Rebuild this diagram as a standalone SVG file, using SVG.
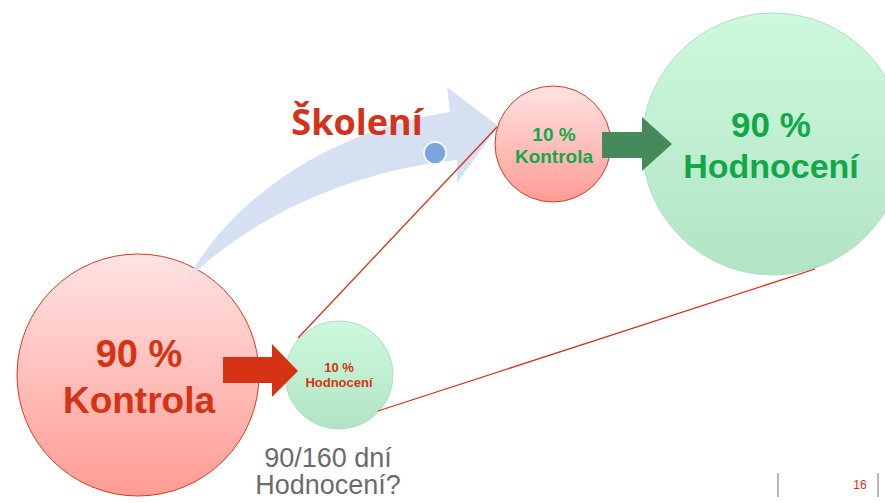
<svg xmlns="http://www.w3.org/2000/svg" width="885" height="503" viewBox="0 0 885 503">
<defs>
<linearGradient id="gRed" x1="0" y1="0" x2="0" y2="1">
<stop offset="0" stop-color="#ffe3e3"/>
<stop offset="1" stop-color="#ff9c94"/>
</linearGradient>
<linearGradient id="gGreen" x1="0" y1="0" x2="0" y2="1">
<stop offset="0" stop-color="#cdf9dc"/>
<stop offset="1" stop-color="#b1e4c4"/>
</linearGradient>
<style>
.rc{fill:url(#gRed);stroke:#d63a1e;stroke-width:1}
.gc{fill:url(#gGreen);stroke:#b3dcc3;stroke-width:1}
.t{font-family:"Liberation Sans",Arial,sans-serif;font-weight:bold;text-anchor:middle}
.red{fill:#d63214}
.grn{fill:#12a84a}
.conn{stroke:#d63214;stroke-width:1.3;fill:none}
.gray{font-family:"Liberation Sans",Arial,sans-serif;fill:#6b6b6b;text-anchor:middle;font-size:27px}
</style>
</defs>
<rect width="885" height="503" fill="#ffffff"/>

<g id="node-90-kontrola">
<circle cx="138" cy="375" r="121" class="rc"/>
<text x="139" y="367" class="t red" font-size="38">90 %</text>
<text x="139" y="413" class="t red" font-size="37">Kontrola</text>
</g>

<g id="skoleni-arrow">
<path d="M188 279 C230 200 330 130 450 112 L447 87 L498 126 L457 183 L457 160 C360 170 260 210 188 279 Z" fill="#d6e0f3"/>
<circle cx="435" cy="153" r="11" fill="#7aa6dd" stroke="#ffffff" stroke-width="1.5"/>
<text x="357" y="135" class="t" font-size="36" fill="#d4321a" style="font-family:'Open Sans','Liberation Sans',sans-serif">Školení</text>
</g>

<g id="node-10-hodnoceni">
<circle cx="339" cy="375" r="54" class="gc"/>
<text x="339" y="372" class="t red" font-size="13">10 %</text>
<text x="339" y="387" class="t red" font-size="13">Hodnocení</text>
</g>

<g id="node-10-kontrola">
<circle cx="553" cy="144" r="58" class="rc"/>
<text x="554" y="141" class="t grn" font-size="19">10 %</text>
<text x="554" y="163" class="t grn" font-size="19">Kontrola</text>
</g>

<g id="node-90-hodnoceni">
<circle cx="773" cy="144" r="131" class="gc"/>
<text x="771" y="137" class="t grn" font-size="35">90 %</text>
<text x="771" y="178" class="t grn" font-size="34">Hodnocení</text>
</g>

<g id="connectors">
<line x1="298" y1="338" x2="497" y2="127" class="conn"/>
<line x1="378" y1="411" x2="815" y2="269" class="conn"/>
<path d="M223 357 L272 357 L272 344 L298 371 L272 397 L272 383 L223 383 Z" fill="#d63214"/>
<path d="M602 132 L642 132 L642 117 L672 144 L642 171 L642 158 L602 158 Z" fill="#468a5b"/>
</g>

<g id="note">
<text x="328" y="467" class="gray">90/160 dní</text>
<text x="328" y="494" class="gray">Hodnocení?</text>
</g>

<g id="footer">
<line x1="778" y1="473" x2="778" y2="497" stroke="#8a8a8a" stroke-width="1.2"/>
<line x1="878" y1="473" x2="878" y2="497" stroke="#8a8a8a" stroke-width="1.2"/>
<text x="860" y="489" font-family="'Liberation Sans',Arial,sans-serif" font-size="12" fill="#d63214" text-anchor="middle">16</text>
</g>
</svg>
